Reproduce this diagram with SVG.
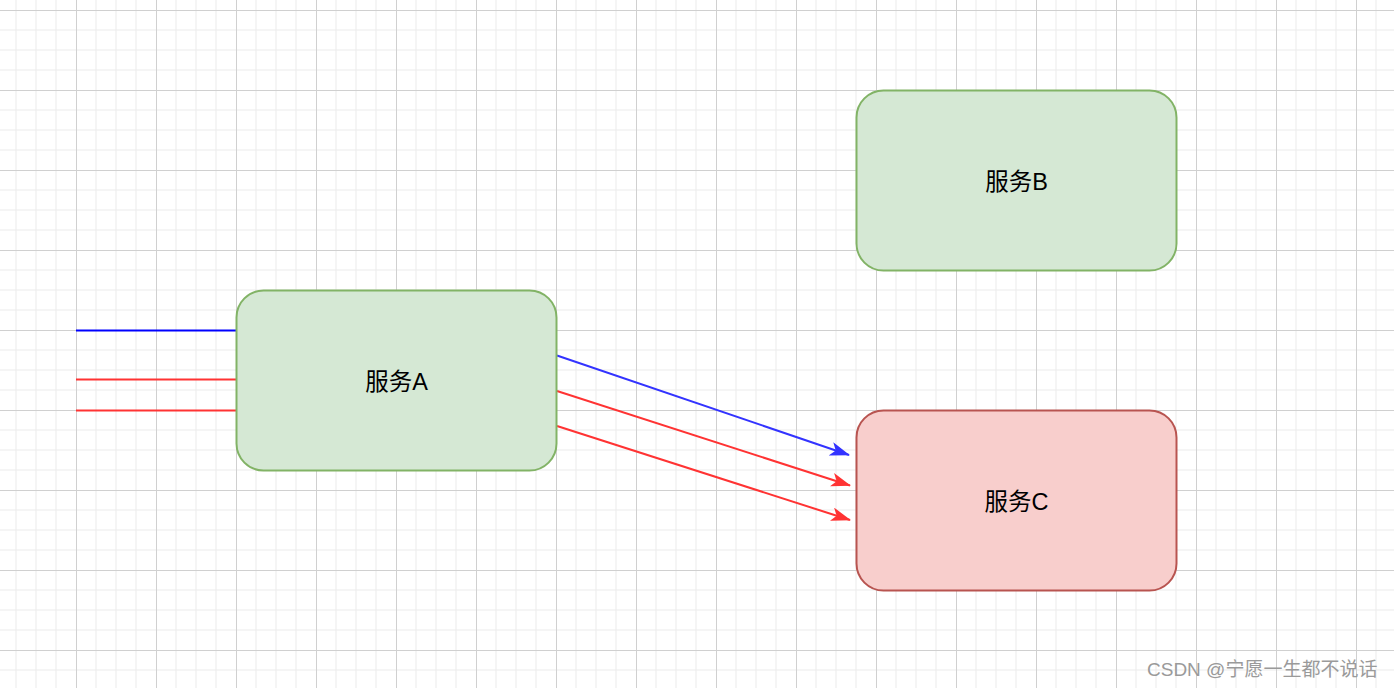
<svg xmlns="http://www.w3.org/2000/svg" width="1394" height="688" viewBox="0 0 1394 688">
<style>
.node-green{fill:#d5e8d4;stroke:#82b366;stroke-width:2}
.node-red{fill:#f8cecc;stroke:#b85450;stroke-width:2}
.label{font-family:"Liberation Sans","Noto Sans CJK SC",sans-serif;font-size:23.5px;fill:#000;text-anchor:middle}
.edge{fill:none;stroke-width:2}
.blue{stroke:#0000ff}
.blue2{stroke:#3333ff}
.red{stroke:#ff3333}
.wm{font-family:"Liberation Sans","Noto Sans CJK SC",sans-serif;font-size:19px;fill:#9a9a9a}
</style>
<defs>
<pattern id="grid" patternUnits="userSpaceOnUse" x="76" y="10" width="80" height="80">
<path d="M20,0V80M40,0V80M60,0V80M0,20H80M0,40H80M0,60H80" stroke="#ebebeb" stroke-width="1" fill="none"/>
<path d="M0.5,0V80M0,0.5H80" stroke="#d0d0d0" stroke-width="1" fill="none"/>
</pattern>
<marker id="arrBlue" viewBox="0 0 20 14" markerWidth="20" markerHeight="14" refX="19" refY="7" markerUnits="userSpaceOnUse" orient="auto">
<path d="M0,0 L20,7 L0,14 L5,7 Z" fill="#3333ff"/>
</marker>
<marker id="arrRed" viewBox="0 0 20 14" markerWidth="20" markerHeight="14" refX="19" refY="7" markerUnits="userSpaceOnUse" orient="auto">
<path d="M0,0 L20,7 L0,14 L5,7 Z" fill="#ff3333"/>
</marker>
</defs>
<rect x="0" y="0" width="1394" height="688" fill="#ffffff"/>
<rect x="0" y="0" width="1394" height="688" fill="url(#grid)"/>
<g id="connectors">
<path class="edge blue" d="M76,330.5H236.5"/>
<path class="edge red" d="M76,379.5H236.5"/>
<path class="edge red" d="M76,410.5H236.5"/>
<path class="edge blue2" d="M557,355.5L849,455" marker-end="url(#arrBlue)"/>
<path class="edge red" d="M557,391L850,485.5" marker-end="url(#arrRed)"/>
<path class="edge red" d="M557,426L850,520" marker-end="url(#arrRed)"/>
</g>
<g id="node-A">
<rect class="node-green" x="236.5" y="290.5" width="320" height="180" rx="27" ry="27"/>
<text class="label" x="396.5" y="389.5">服务A</text>
</g>
<g id="node-B">
<rect class="node-green" x="856.5" y="90.5" width="320" height="180" rx="27" ry="27"/>
<text class="label" x="1016.5" y="189.5">服务B</text>
</g>
<g id="node-C">
<rect class="node-red" x="856.5" y="410.5" width="320" height="180" rx="27" ry="27"/>
<text class="label" x="1016.5" y="509.5">服务C</text>
</g>
<text class="wm" x="1147" y="676">CSDN @宁愿一生都不说话</text>
</svg>
